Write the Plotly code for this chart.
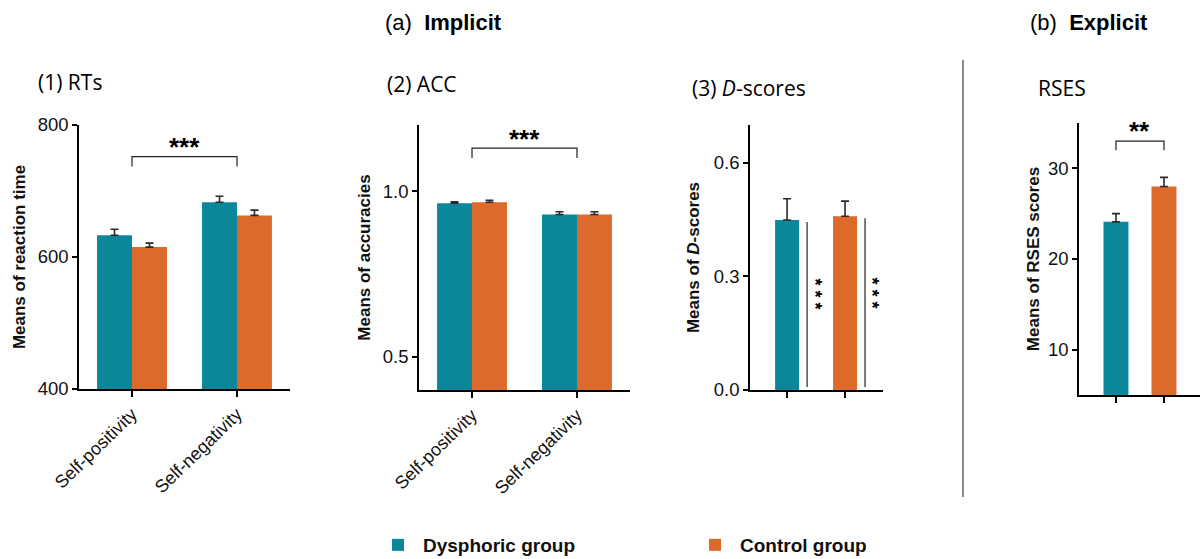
import plotly.graph_objects as go

# ---------------- data ----------------
categories = ["Self-positivity", "Self-negativity"]
groups = ["Dysphoric group", "Control group"]

rt_dys = [633, 683]
rt_dys_err = [9, 9]
rt_con = [615, 663]
rt_con_err = [6, 8]

acc_dys = [0.964, 0.930]
acc_dys_err = [0.004, 0.008]
acc_con = [0.967, 0.930]
acc_con_err = [0.006, 0.008]

d_dys = [0.449]
d_dys_err = [0.056]
d_con = [0.459]
d_con_err = [0.040]

rses_dys = [24.1]
rses_dys_err = [0.9]
rses_con = [28.0]
rses_con_err = [1.0]

TEAL = "#0b8799"
ORANGE = "#dc6a2a"
ERRC = "#2a2a2a"
FONT = "Liberation Sans, Arial, sans-serif"
W, H = 1200, 559

def px_x(p):
    return p / W

def px_y(p):
    return 1 - p / H

fig = go.Figure()

def bars(xaxis, yaxis, xs, ys, errs, color, name, offset, width, show):
    fig.add_trace(go.Bar(
        x=xs, y=ys, name="<b>" + name + "</b>", legendgroup=name, showlegend=show,
        marker=dict(color=color, line=dict(width=0)),
        offset=offset, width=width,
        error_y=dict(type="data", array=errs, arrayminus=[0] * len(errs),
                     symmetric=False, color=ERRC, thickness=1.6, width=4),
        xaxis=xaxis, yaxis=yaxis,
    ))

# Panel 1: RTs
bars("x", "y", [0, 1], rt_dys, rt_dys_err, TEAL, groups[0], -0.333, 0.333, True)
bars("x", "y", [0, 1], rt_con, rt_con_err, ORANGE, groups[1], 0.0, 0.333, True)
# Panel 2: ACC
bars("x2", "y2", [0, 1], acc_dys, acc_dys_err, TEAL, groups[0], -0.333, 0.333, False)
bars("x2", "y2", [0, 1], acc_con, acc_con_err, ORANGE, groups[1], 0.0, 0.333, False)
# Panel 3: D-scores
bars("x3", "y3", [0], d_dys, d_dys_err, TEAL, groups[0], -0.207, 0.414, False)
bars("x3", "y3", [1], d_con, d_con_err, ORANGE, groups[1], -0.207, 0.414, False)
# Panel 4: RSES
bars("x4", "y4", [0], rses_dys, rses_dys_err, TEAL, groups[0], -0.26, 0.52, False)
bars("x4", "y4", [1], rses_con, rses_con_err, ORANGE, groups[1], -0.26, 0.52, False)

axis_common = dict(showline=True, linecolor="black", linewidth=1.5, ticks="outside",
                   tickcolor="black", tickwidth=1.5, showgrid=False, zeroline=False,
                   mirror=False, automargin=False)

ydom = [px_y(389), px_y(125)]
TICKF = dict(size=18.5, color="#111")
XTF = dict(size=18, color="#111")
YTF = dict(size=17, color="#111")
layout = dict(
    width=W, height=H, margin=dict(l=0, r=0, t=0, b=0, autoexpand=False),
    paper_bgcolor="white", plot_bgcolor="white",
    barmode="overlay",
    font=dict(family=FONT, color="black"),
    xaxis=dict(domain=[px_x(79), px_x(290)], range=[-0.505, 1.505], tickvals=[0, 1],
               ticktext=categories, tickangle=-44, tickfont=XTF, ticklen=6,
               anchor="y", **axis_common),
    yaxis=dict(domain=ydom, range=[400, 800], tickvals=[400, 600, 800],
               tickfont=TICKF, ticklen=5, anchor="x",
               title=dict(text="<b>Means of reaction time</b>", font=YTF, standoff=8),
               **axis_common),
    xaxis2=dict(domain=[px_x(419), px_x(630)], range=[-0.505, 1.505], tickvals=[0, 1],
                ticktext=categories, tickangle=-44, tickfont=XTF, ticklen=6,
                anchor="y2", **axis_common),
    yaxis2=dict(domain=[px_y(390), px_y(125)], range=[0.4, 1.2], tickvals=[0.5, 1.0],
                tickformat=".1f", tickfont=TICKF, ticklen=5, anchor="x2",
                title=dict(text="<b>Means of accuracies</b>", font=YTF, standoff=8),
                **axis_common),
    xaxis3=dict(domain=[px_x(750), px_x(883)], range=[-0.64, 1.655], tickvals=[0, 1],
                ticktext=["", ""], ticklen=6, anchor="y3", **axis_common),
    yaxis3=dict(domain=[px_y(390), px_y(125)], range=[0, 0.7], tickvals=[0, 0.3, 0.6],
                tickformat=".1f", tickfont=TICKF, ticklen=5, anchor="x3",
                title=dict(text="<b>Means of <i>D</i>-scores</b>", font=YTF, standoff=10),
                **axis_common),
    xaxis4=dict(domain=[px_x(1079), 1.0], range=[-0.77, 1.75], tickvals=[0, 1],
                ticktext=["", ""], ticklen=6, anchor="y4", **axis_common),
    yaxis4=dict(domain=[px_y(395), px_y(123)], range=[5, 35], tickvals=[10, 20, 30],
                tickfont=TICKF, ticklen=5, anchor="x4",
                title=dict(text="<b>Means of RSES scores</b>", font=YTF, standoff=4),
                **axis_common),
    showlegend=True,
    legend=dict(orientation="h", x=px_x(373), y=px_y(545), yanchor="middle", xanchor="left",
                entrywidth=262, itemwidth=40, font=dict(size=19, family=FONT, color="#111"),
                traceorder="normal", itemclick=False),
)
fig.update_layout(**layout)

shapes = []
annotations = []

def bracket(xref, yref, x0, x1, ytop, ydrop, stars, star_y):
    shapes.append(dict(type="path", xref=xref, yref=yref,
                       path=f"M {x0},{ydrop} L {x0},{ytop} L {x1},{ytop} L {x1},{ydrop}",
                       line=dict(color="#222", width=1.2)))
    annotations.append(dict(xref=xref, yref=yref, x=(x0 + x1) / 2, y=star_y, text=f"<b>{stars}</b>",
                            showarrow=False, font=dict(size=26, family=FONT), yanchor="middle",
                            yshift=-2))

bracket("x", "y", 0, 1, 752, 737, "***", 770)
bracket("x2", "y2", 0, 1, 1.13, 1.10, "***", 1.165)
bracket("x4", "y4", 0, 1, 33.0, 32.0, "**", 34.3)

# D-score one-sample markers
for xv, top in [(0.345, d_dys[0]), (1.345, d_con[0])]:
    shapes.append(dict(type="line", xref="x3", yref="y3", x0=xv, x1=xv, y0=0.008, y1=top - 0.005,
                       line=dict(color="#222", width=1.2)))
    annotations.append(dict(xref="x3", yref="y3", x=xv + 0.12, y=0.255, text="<b>* * *</b>",
                            textangle=90, showarrow=False, font=dict(size=18, family=FONT)))

# separator
shapes.append(dict(type="line", xref="paper", yref="paper", x0=px_x(963), x1=px_x(963),
                   y0=px_y(497), y1=px_y(60), line=dict(color="#666", width=1.5)))

TFONT = "Liberation Sans, Arial, sans-serif"
SFONT = "Open Sans, Noto Sans, sans-serif"
annotations += [
    dict(xref="paper", yref="paper", x=px_x(383), y=px_y(22), xanchor="left", yanchor="middle",
         text="(a)  <b>Implicit</b>", showarrow=False, font=dict(size=22, family=TFONT)),
    dict(xref="paper", yref="paper", x=px_x(1028), y=px_y(22), xanchor="left", yanchor="middle",
         text="(b)  <b>Explicit</b>", showarrow=False, font=dict(size=22, family=TFONT)),
    dict(xref="paper", yref="paper", x=px_x(36), y=px_y(82), text="(1) RTs", xanchor="left",
         yanchor="middle", showarrow=False, font=dict(size=21, family=SFONT)),
    dict(xref="paper", yref="paper", x=px_x(385), y=px_y(84), text="(2) ACC", xanchor="left",
         yanchor="middle", showarrow=False, font=dict(size=21, family=SFONT)),
    dict(xref="paper", yref="paper", x=px_x(690), y=px_y(88), text="(3) <i>D</i>-scores", xanchor="left",
         yanchor="middle", showarrow=False, font=dict(size=21, family=SFONT)),
    dict(xref="paper", yref="paper", x=px_x(1036), y=px_y(88), text="RSES", xanchor="left",
         yanchor="middle", showarrow=False, font=dict(size=21, family=SFONT)),
]

fig.update_layout(shapes=shapes, annotations=annotations)
fig.write_html("out.html")
